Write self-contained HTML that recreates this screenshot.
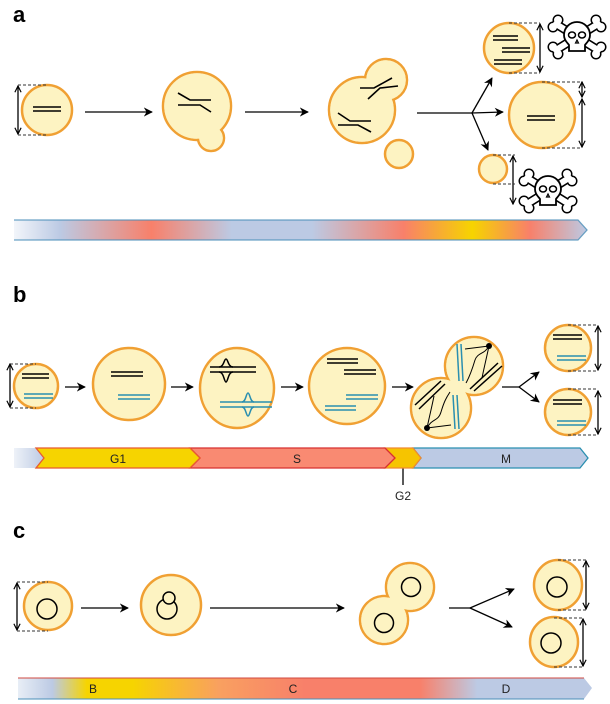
<!DOCTYPE html>
<html><head><meta charset="utf-8"><style>
html,body{margin:0;padding:0;background:#fff;}
svg{display:block;}
text{font-family:"Liberation Sans",sans-serif;}
</style></head><body>
<svg width="610" height="704" viewBox="0 0 610 704" xmlns="http://www.w3.org/2000/svg">
<defs>
<marker id="ah" viewBox="0 0 10 10" refX="9" refY="5" markerWidth="7" markerHeight="7" orient="auto-start-reverse"><path d="M0,0 L10,5 L0,10 L3,5 z" fill="#000"/></marker>
<marker id="oh" viewBox="0 0 10 10" refX="9" refY="5" markerWidth="6" markerHeight="6" orient="auto-start-reverse"><path d="M1,1 L9,5 L1,9" fill="none" stroke="#000" stroke-width="1.5"/></marker>
<linearGradient id="ga" x1="0" x2="1" y1="0" y2="0">
<stop offset="0" stop-color="#f2f5fa"/><stop offset="0.08" stop-color="#bccae4"/><stop offset="0.24" stop-color="#f8806a"/><stop offset="0.38" stop-color="#bccae4"/><stop offset="0.52" stop-color="#bccae4"/><stop offset="0.68" stop-color="#f8806a"/><stop offset="0.8" stop-color="#f6d400"/><stop offset="0.9" stop-color="#f8806a"/><stop offset="1" stop-color="#bccae4"/>
</linearGradient>
<linearGradient id="gc" x1="0" x2="1" y1="0" y2="0">
<stop offset="0" stop-color="#e8eef6"/><stop offset="0.06" stop-color="#bccae4"/><stop offset="0.12" stop-color="#f6d400"/><stop offset="0.2" stop-color="#f6d400"/><stop offset="0.35" stop-color="#f9a060"/><stop offset="0.5" stop-color="#f8806a"/><stop offset="0.7" stop-color="#f8806a"/><stop offset="0.8" stop-color="#bccae4"/><stop offset="1" stop-color="#bccae4"/>
</linearGradient>
<linearGradient id="gb" x1="0" x2="1"><stop offset="0" stop-color="#eef2f8"/><stop offset="1" stop-color="#bccae4"/></linearGradient>
<g id="skull">
<g stroke="#000" stroke-width="9" stroke-linecap="round"><line x1="-21" y1="-13" x2="21" y2="13"/><line x1="-21" y1="13" x2="21" y2="-13"/></g>
<g fill="#000"><circle cx="-24" cy="-10" r="5.5"/><circle cx="-19" cy="-17" r="5.5"/><circle cx="24" cy="-10" r="5.5"/><circle cx="19" cy="-17" r="5.5"/><circle cx="-24" cy="10" r="5.5"/><circle cx="-19" cy="17" r="5.5"/><circle cx="24" cy="10" r="5.5"/><circle cx="19" cy="17" r="5.5"/></g>
<g fill="#fff"><circle cx="-24" cy="-10" r="4"/><circle cx="-19" cy="-17" r="4"/><circle cx="24" cy="-10" r="4"/><circle cx="19" cy="-17" r="4"/><circle cx="-24" cy="10" r="4"/><circle cx="-19" cy="17" r="4"/><circle cx="24" cy="10" r="4"/><circle cx="19" cy="17" r="4"/></g>
<g stroke="#fff" stroke-width="6" stroke-linecap="round"><line x1="-21" y1="-13" x2="21" y2="13"/><line x1="-21" y1="13" x2="21" y2="-13"/></g>
<path d="M-13,-2 A13,13 0 1 1 13,-2 C13,4 9,6 8,8 L8,14 L-8,14 L-8,8 C-9,6 -13,4 -13,-2 z" fill="#fff" stroke="#000" stroke-width="1.8"/>
<ellipse cx="-5" cy="-2" rx="3.5" ry="3" fill="#fff" stroke="#000" stroke-width="1.5"/>
<ellipse cx="5" cy="-2" rx="3.5" ry="3" fill="#fff" stroke="#000" stroke-width="1.5"/>
<path d="M0,3 L-1.5,6 L1.5,6 z" fill="none" stroke="#000" stroke-width="1.2"/>
</g>
</defs>

<!-- PANEL A -->
<text x="13" y="22" font-size="22" font-weight="bold">a</text>
<g fill="#fdf3c2" stroke="#f0a033" stroke-width="2.5">
<circle cx="47" cy="110" r="25"/>
<circle cx="197" cy="106" r="34"/><circle cx="211" cy="138" r="13"/>
<circle cx="362" cy="110" r="33"/><circle cx="386" cy="80" r="21"/>
<circle cx="399" cy="154" r="14"/>
<circle cx="509" cy="48" r="25"/>
<circle cx="542" cy="115" r="33"/>
<circle cx="493" cy="169" r="14"/>
</g>
<g fill="#fdf3c2"><circle cx="197" cy="106" r="32.8"/><circle cx="211" cy="138" r="11.8"/><circle cx="362" cy="110" r="31.8"/><circle cx="386" cy="80" r="19.8"/></g>
<g stroke="#000" stroke-width="1.6" fill="none">
<line x1="33" y1="107" x2="61" y2="107"/><line x1="33" y1="111" x2="61" y2="111"/>
<polyline points="178,93 190,100 211,100"/><polyline points="178,105 200,105 211,112"/>
<polyline points="338,113 350,121 371,121"/><polyline points="338,125 358,125 371,132"/>
<polyline points="360,88 374,88 392,78"/><polyline points="368,99 380,88 398,86"/>
<line x1="493" y1="36" x2="518" y2="36"/><line x1="493" y1="40" x2="518" y2="40"/>
<line x1="502" y1="48" x2="530" y2="48"/><line x1="502" y1="52" x2="530" y2="52"/>
<line x1="494" y1="60" x2="522" y2="60"/><line x1="494" y1="64" x2="522" y2="64"/>
<line x1="527" y1="116" x2="555" y2="116"/><line x1="527" y1="120" x2="555" y2="120"/>
</g>
<g stroke="#000" stroke-width="1.3" fill="none">
<line x1="85" y1="112" x2="152" y2="112" marker-end="url(#ah)"/>
<line x1="245" y1="112" x2="308" y2="112" marker-end="url(#ah)"/>
<line x1="417" y1="113" x2="472" y2="113"/>
<line x1="472" y1="113" x2="492" y2="78" marker-end="url(#ah)"/>
<line x1="472" y1="113" x2="503" y2="112" marker-end="url(#ah)"/>
<line x1="472" y1="113" x2="488" y2="150" marker-end="url(#ah)"/>
<line x1="18" y1="86" x2="18" y2="134" marker-start="url(#oh)" marker-end="url(#oh)"/>
<line x1="540" y1="24" x2="540" y2="72" marker-start="url(#oh)" marker-end="url(#oh)"/>
<line x1="582" y1="82" x2="582" y2="97" marker-start="url(#oh)" marker-end="url(#oh)"/>
<line x1="582" y1="99" x2="582" y2="147" marker-start="url(#oh)" marker-end="url(#oh)"/>
<line x1="513" y1="156" x2="513" y2="204" marker-start="url(#oh)" marker-end="url(#oh)"/>
</g>
<g stroke="#333" stroke-width="1" stroke-dasharray="3,2">
<line x1="18" y1="85" x2="47" y2="85"/><line x1="18" y1="135" x2="47" y2="135"/>
<line x1="509" y1="23" x2="540" y2="23"/><line x1="509" y1="73" x2="540" y2="73"/>
<line x1="542" y1="82" x2="582" y2="82"/><line x1="542" y1="148" x2="582" y2="148"/>
<line x1="493" y1="155" x2="515" y2="155"/><line x1="493" y1="184" x2="515" y2="184"/>
</g>
<use href="#skull" x="577" y="37"/>
<use href="#skull" x="548" y="191"/>
<polygon points="14,220 578,220 587,230 578,240 14,240" fill="url(#ga)"/>
<polyline points="14,220 578,220 587,230 578,240 14,240" fill="none" stroke="#4a8fb8" stroke-width="1.3" opacity="0.8"/>

<!-- PANEL B -->
<text x="13" y="302" font-size="22" font-weight="bold">b</text>
<g fill="#fdf3c2" stroke="#f0a033" stroke-width="2.5">
<ellipse cx="36" cy="386" rx="22" ry="22"/>
<ellipse cx="129" cy="384" rx="36" ry="36"/>
<ellipse cx="237" cy="388" rx="37" ry="40"/>
<ellipse cx="347" cy="386" rx="38" ry="38"/>
<circle cx="474" cy="366" r="29"/><circle cx="441" cy="408" r="30"/>
<ellipse cx="568" cy="348" rx="23" ry="23"/>
<ellipse cx="568" cy="412" rx="23" ry="23"/>
</g>
<g fill="#fdf3c2"><circle cx="474" cy="366" r="27.8"/><circle cx="441" cy="408" r="28.8"/></g>
<g stroke="#000" stroke-width="1.5" fill="none">
<line x1="22" y1="374" x2="49" y2="374"/><line x1="22" y1="378" x2="49" y2="378"/>
<line x1="111" y1="372" x2="143" y2="372"/><line x1="111" y1="376" x2="143" y2="376"/>
<line x1="210" y1="367" x2="256" y2="367"/><line x1="210" y1="372" x2="256" y2="372"/>
<path d="M219,367 C224,367 224,359 226,359 C228,359 228,367 233,367"/>
<path d="M219,372 C224,372 224,382 226,382 C228,382 228,372 233,372"/>
<line x1="327" y1="359" x2="358" y2="359"/><line x1="327" y1="363" x2="358" y2="363"/>
<line x1="344" y1="370" x2="376" y2="370"/><line x1="344" y1="374" x2="376" y2="374"/>
<line x1="553" y1="335" x2="582" y2="335"/><line x1="553" y1="339" x2="582" y2="339"/>
<line x1="553" y1="400" x2="582" y2="400"/><line x1="553" y1="404" x2="582" y2="404"/>
<line x1="470" y1="389" x2="498" y2="363"/><line x1="474" y1="391" x2="502" y2="366"/>
<line x1="415" y1="405" x2="441" y2="381"/><line x1="419" y1="409" x2="445" y2="384"/>
</g>
<g stroke="#000" stroke-width="1" fill="none">
<path d="M489,346 L465,349"/><path d="M489,346 C484,355 478,352 475,360 C472,370 470,376 466,383"/><path d="M489,346 C486,360 484,368 482,378"/>
<path d="M427,428 L451,425"/><path d="M427,428 C432,418 438,422 441,412 C444,402 446,398 450,392"/><path d="M427,428 C430,414 432,406 434,396"/>
</g>
<circle cx="489" cy="346" r="3" fill="#000"/><circle cx="427" cy="428" r="3" fill="#000"/>
<g stroke="#2a8fb0" stroke-width="1.5" fill="none">
<line x1="24" y1="394" x2="53" y2="394"/><line x1="24" y1="398" x2="53" y2="398"/>
<line x1="118" y1="395" x2="150" y2="395"/><line x1="118" y1="399" x2="150" y2="399"/>
<line x1="220" y1="402" x2="272" y2="402"/><line x1="220" y1="407" x2="272" y2="407"/>
<path d="M242,402 C246,402 246,393 248,393 C250,393 250,402 254,402"/>
<path d="M242,407 C246,407 246,416 248,416 C250,416 250,407 254,407"/>
<line x1="346" y1="395" x2="378" y2="395"/><line x1="346" y1="399" x2="378" y2="399"/>
<line x1="325" y1="406" x2="356" y2="406"/><line x1="325" y1="410" x2="356" y2="410"/>
<line x1="557" y1="356" x2="586" y2="356"/><line x1="557" y1="360" x2="586" y2="360"/>
<line x1="557" y1="421" x2="586" y2="421"/><line x1="557" y1="425" x2="586" y2="425"/>
<line x1="457" y1="344" x2="459" y2="381"/><line x1="461" y1="344" x2="463" y2="381"/>
<line x1="453" y1="395" x2="455" y2="429"/><line x1="457" y1="395" x2="459" y2="429"/>
</g>
<g stroke="#000" stroke-width="1.3" fill="none">
<line x1="65" y1="387" x2="85" y2="387" marker-end="url(#ah)"/>
<line x1="171" y1="387" x2="193" y2="387" marker-end="url(#ah)"/>
<line x1="281" y1="387" x2="303" y2="387" marker-end="url(#ah)"/>
<line x1="392" y1="387" x2="413" y2="387" marker-end="url(#ah)"/>
<line x1="502" y1="387" x2="519" y2="387"/>
<line x1="519" y1="387" x2="539" y2="372" marker-end="url(#ah)"/>
<line x1="519" y1="387" x2="539" y2="402" marker-end="url(#ah)"/>
<line x1="10" y1="364" x2="10" y2="407" marker-start="url(#oh)" marker-end="url(#oh)"/>
<line x1="598" y1="326" x2="598" y2="370" marker-start="url(#oh)" marker-end="url(#oh)"/>
<line x1="598" y1="391" x2="598" y2="434" marker-start="url(#oh)" marker-end="url(#oh)"/>
<line x1="403" y1="468" x2="403" y2="485"/>
</g>
<g stroke="#333" stroke-width="1" stroke-dasharray="3,2">
<line x1="10" y1="364" x2="36" y2="364"/><line x1="10" y1="408" x2="36" y2="408"/>
<line x1="568" y1="325" x2="598" y2="325"/><line x1="568" y1="371" x2="598" y2="371"/>
<line x1="568" y1="389" x2="598" y2="389"/><line x1="568" y1="435" x2="598" y2="435"/>
</g>
<polygon points="14,448 36,448 44,458 36,468 14,468" fill="url(#gb)"/>
<polygon points="413,448 580,448 588,458 580,468 413,468 421,458" fill="#bccae4" stroke="#2a8fb0" stroke-width="1.3"/>
<polygon points="385,448 413,448 421,458 413,468 385,468 395,458" fill="#f6c400" stroke="#f08a30" stroke-width="1.3"/>
<polygon points="190,448 385,448 395,458 385,468 190,468 200,458" fill="#f98a72" stroke="#d83030" stroke-width="1.3"/>
<polygon points="36,448 190,448 200,458 190,468 36,468 44,458" fill="#f6d400" stroke="#e85a30" stroke-width="1.3"/>
<g font-size="12" text-anchor="middle" fill="#222">
<text x="118" y="463">G1</text><text x="297" y="463">S</text><text x="506" y="463">M</text><text x="403" y="500">G2</text>
</g>

<!-- PANEL C -->
<text x="13" y="538" font-size="22" font-weight="bold">c</text>
<g fill="#fdf3c2" stroke="#f0a033" stroke-width="2.5">
<ellipse cx="48" cy="606" rx="24" ry="24"/>
<ellipse cx="171" cy="605" rx="30" ry="30"/>
<circle cx="410" cy="587" r="24"/><circle cx="384" cy="620" r="24"/>
<ellipse cx="558" cy="585" rx="24" ry="25"/>
<ellipse cx="554" cy="642" rx="24" ry="25"/>
</g>
<g fill="#fdf3c2"><circle cx="410" cy="587" r="22.8"/><circle cx="384" cy="620" r="22.8"/></g>
<g stroke="#000" stroke-width="1.5" fill="#fdf3c2">
<circle cx="47" cy="609" r="10"/>
<circle cx="167" cy="609" r="10"/><circle cx="169" cy="598" r="6"/>
<circle cx="411" cy="587" r="9.5"/><circle cx="384" cy="623" r="9.5"/>
<circle cx="557" cy="587" r="10"/><circle cx="551" cy="643" r="10"/>
</g>
<g stroke="#000" stroke-width="1.3" fill="none">
<line x1="81" y1="608" x2="128" y2="608" marker-end="url(#ah)"/>
<line x1="210" y1="608" x2="344" y2="608" marker-end="url(#ah)"/>
<line x1="449" y1="608" x2="470" y2="608"/>
<line x1="470" y1="608" x2="514" y2="589" marker-end="url(#ah)"/>
<line x1="470" y1="608" x2="512" y2="627" marker-end="url(#ah)"/>
<line x1="17" y1="583" x2="17" y2="630" marker-start="url(#oh)" marker-end="url(#oh)"/>
<line x1="586" y1="561" x2="586" y2="609" marker-start="url(#oh)" marker-end="url(#oh)"/>
<line x1="583" y1="619" x2="583" y2="666" marker-start="url(#oh)" marker-end="url(#oh)"/>
</g>
<g stroke="#333" stroke-width="1" stroke-dasharray="3,2">
<line x1="17" y1="582" x2="48" y2="582"/><line x1="17" y1="631" x2="48" y2="631"/>
<line x1="558" y1="560" x2="586" y2="560"/><line x1="558" y1="610" x2="586" y2="610"/>
<line x1="554" y1="618" x2="583" y2="618"/><line x1="554" y1="667" x2="583" y2="667"/>
</g>
<polygon points="18,678 584,678 592,688 584,699 18,699" fill="url(#gc)"/>
<line x1="18" y1="678" x2="584" y2="678" stroke="#d04a40" stroke-width="1"/>
<line x1="18" y1="699" x2="584" y2="699" stroke="#4a8fb8" stroke-width="1"/>
<g font-size="12" text-anchor="middle" fill="#222">
<text x="93" y="693">B</text><text x="293" y="693">C</text><text x="506" y="693">D</text>
</g>
</svg>
</body></html>
